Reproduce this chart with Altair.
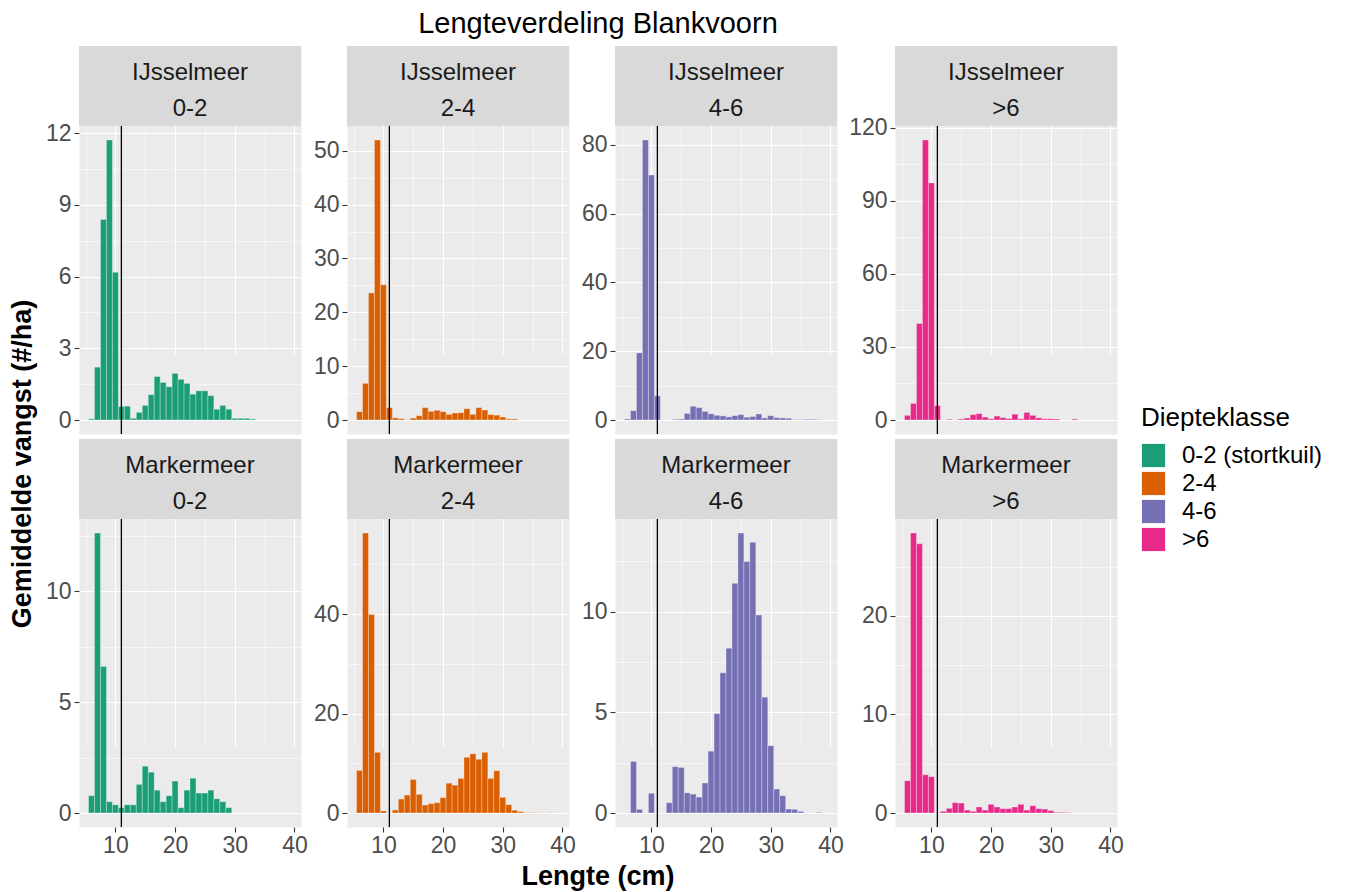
import altair as alt
import pandas as pd

FONT = "Liberation Sans"

TITLE = "Lengteverdeling Blankvoorn"
X_TITLE = "Lengte (cm)"
Y_TITLE = "Gemiddelde vangst (#/ha)"
LEGEND_TITLE = "Diepteklasse"

MEREN = ["IJsselmeer", "IJsselmeer", "IJsselmeer", "IJsselmeer",
         "Markermeer", "Markermeer", "Markermeer", "Markermeer"]
KLASSEN = ["0-2", "2-4", "4-6", ">6", "0-2", "2-4", "4-6", ">6"]
LEGEND_LABELS = ["0-2 (stortkuil)", "2-4", "4-6", ">6"]
COLORS = ["#1B9E77", "#D95F02", "#7570B3", "#E7298A"]

LENGTHS = list(range(6, 39))  # 6 .. 38 cm
REF_LINE = [11]

IJ_0_2 = [0.05, 2.21, 8.39, 11.71, 6.18, 0.56, 0.58, 0.07, 0.32, 0.61, 1.06, 1.82, 1.57, 1.39,
          1.95, 1.70, 1.53, 1.08, 1.22, 1.22, 1.02, 0.45, 0.61, 0.45, 0.07, 0.07, 0.07, 0.04,
          0, 0, 0, 0, 0]
IJ_2_4 = [1.55, 6.8, 23.6, 52.0, 25.1, 2.3, 0.4, 0.25, 0.05, 0.35, 0.8, 2.3, 1.6, 1.8,
          1.55, 1.05, 1.3, 1.35, 2.1, 1.05, 2.3, 1.85, 1.0, 0.9, 0.55, 0.2, 0.2,
          0, 0, 0, 0, 0, 0]
IJ_4_6 = [0.3, 2.7, 19.5, 81.4, 71.2, 7.0, 0, 0, 0.2, 0.3, 1.9, 4.0, 3.6, 2.5,
          1.8, 1.35, 1.2, 0.9, 1.25, 1.55, 0.8, 1.0, 1.75, 0.6, 1.25, 0.7, 0.6, 0.5,
          0.1, 0.1, 0.2, 0.2, 0.1]
IJ_GT6 = [1.9, 6.8, 39.6, 114.9, 97.3, 5.9, 0, 0.3, 0, 0.4, 0.8, 2.2, 2.6, 1.2,
          0.5, 1.6, 1.0, 0.6, 2.4, 0.5, 3.1, 1.9, 0.9, 0.5, 0.5, 0.4, 0, 0,
          0.4, 0, 0, 0, 0]
MM_0_2 = [0.78, 12.62, 6.6, 0.51, 0.37, 0.24, 0.37, 0.37, 1.29, 2.11, 1.84, 1.03, 0.51, 0.78,
          1.44, 0.24, 1.03, 1.57, 0.9, 0.9, 1.03, 0.64, 0.51, 0.24,
          0, 0, 0, 0, 0, 0, 0, 0, 0]
MM_2_4 = [8.56, 56.3, 39.9, 12.2, 0.4, 0.05, 0.6, 2.8, 3.6, 6.75, 3.75, 1.6, 1.87, 2.07,
          3.08, 6.0, 5.6, 6.95, 11.2, 11.9, 10.8, 12.2, 6.95, 8.5, 3.15, 1.67, 0.55, 0.27,
          0.05, 0.05, 0.05, 0, 0.05]
MM_4_6 = [0, 2.56, 0.18, 0, 0.98, 0, 0, 0.51, 2.3, 2.26, 1.0, 0.94, 0.79, 1.49,
          3.07, 4.93, 6.96, 8.18, 11.4, 13.9, 12.48, 13.44, 9.83, 5.75, 3.34, 1.19, 0.86, 0.2,
          0.18, 0.08, 0, 0, 0.03]
MM_GT6 = [3.27, 28.4, 27.3, 3.88, 3.68, 0.03, 0.17, 0.47, 1.05, 1.01, 0.3, 0.17, 0.61, 0.3,
          0.88, 0.61, 0.44, 0.44, 0.61, 0.88, 0.3, 0.74, 0.44, 0.4, 0.24, 0.07, 0.07, 0.03,
          0, 0, 0, 0, 0]

SERIES = [IJ_0_2, IJ_2_4, IJ_4_6, IJ_GT6, MM_0_2, MM_2_4, MM_4_6, MM_GT6]
Y_MAJORS = [[0, 3, 6, 9, 12], [0, 10, 20, 30, 40, 50], [0, 20, 40, 60, 80], [0, 30, 60, 90, 120],
            [0, 5, 10], [0, 20, 40], [0, 5, 10], [0, 10, 20]]
X_MAJORS = [10, 20, 30, 40]
X_TICKS = [5, 10, 15, 20, 25, 30, 35, 40]
X_DOMAIN = [3.9, 41.1]

W = 222
STRIP_H = 80
PLOT_H = 308
H = STRIP_H + PLOT_H

TICK_FONT = 23
STRIP_FONT = 24


def make_panel(idx):
    meer = MEREN[idx]
    klasse = KLASSEN[idx]
    vals = SERIES[idx]
    legend_label = LEGEND_LABELS[idx % 4]
    majors = Y_MAJORS[idx]
    bottom = idx >= 4

    df = pd.DataFrame({"Lengte": LENGTHS, "Vangst": vals})
    df = df[df["Vangst"] > 0].copy()
    df["Diepteklasse"] = legend_label

    m = max(vals)
    lo, hi = -0.05 * m, 1.05 * m
    half = (majors[1] - majors[0]) / 2
    ticks = []
    k = 0
    while k * half <= hi:
        ticks.append(k * half)
        k += 1
    ytest = "indexof(%s, datum.value) >= 0" % str(majors)

    yaxis = alt.Axis(
        values=ticks,
        labelExpr="%s ? toString(datum.value) : ''" % ytest,
        labelOverlap=False,
        gridColor="white",
        gridWidth={"condition": {"test": ytest, "value": 1.1}, "value": 0.55},
        tickOpacity={"condition": {"test": ytest, "value": 1}, "value": 0},
        tickSize=5, tickWidth=1.1, tickColor="#333333",
        labelColor="#4D4D4D", labelFontSize=TICK_FONT, labelPadding=3, labelFont=FONT,
        domain=False, title=None,
    )
    xtest = "indexof(%s, datum.value) >= 0" % str(X_MAJORS)
    if bottom:
        xaxis = alt.Axis(
            values=X_TICKS,
            labelExpr="%s ? toString(datum.value) : ''" % xtest,
            labelOverlap=False, labelFlush=False,
            gridColor="white",
            gridWidth={"condition": {"test": xtest, "value": 1.1}, "value": 0.55},
            tickOpacity={"condition": {"test": xtest, "value": 1}, "value": 0},
            tickSize=5, tickWidth=1.1, tickColor="#333333",
            labelColor="#4D4D4D", labelFontSize=TICK_FONT, labelPadding=2, labelFont=FONT,
            domain=False, title=None,
        )
    else:
        xaxis = alt.Axis(
            values=X_TICKS, labels=False, ticks=False,
            gridColor="white",
            gridWidth={"condition": {"test": xtest, "value": 1.1}, "value": 0.55},
            domain=False, title=None,
        )
    xscale = alt.Scale(domain=X_DOMAIN, nice=False, zero=False)

    bars = alt.Chart(df).transform_calculate(
        x0="datum.Lengte - 0.5", x1="datum.Lengte + 0.5", y0="0"
    ).mark_bar(stroke="white", strokeWidth=0.5, strokeOpacity=0.6).encode(
        x=alt.X("x0:Q", scale=xscale, axis=xaxis),
        x2="x1:Q",
        y=alt.Y("Vangst:Q", scale=alt.Scale(domain=[lo, hi], range=[H, STRIP_H], nice=False, zero=False),
                axis=yaxis),
        y2="y0:Q",
        color=alt.Color(
            "Diepteklasse:N",
            scale=alt.Scale(domain=LEGEND_LABELS, range=COLORS),
            legend=alt.Legend(
                title=LEGEND_TITLE, orient="none", legendX=1132, legendY=396,
                symbolType="square", symbolSize=576, symbolStrokeColor="white",
                symbolStrokeWidth=0.8, symbolOpacity=1,
                titleFontSize=26, titleFontWeight="normal", titleColor="black", titleFont=FONT,
                titlePadding=12,
                labelFontSize=24, labelColor="black", labelFont=FONT, labelOffset=16,
                rowPadding=-1,
            ),
        ),
    )

    rule = alt.Chart(pd.DataFrame({"x0": REF_LINE})).mark_rule(color="black", strokeWidth=1.3).encode(
        x=alt.X("x0:Q", scale=xscale, axis=xaxis)
    )

    sdf = pd.DataFrame({"meer": [meer], "klasse": [klasse]})
    strip = alt.Chart(sdf).mark_rect(color="#D9D9D9").encode(
        x=alt.value(0), x2=alt.value(W), y=alt.value(0), y2=alt.value(STRIP_H)
    )
    t1 = alt.Chart(sdf).mark_text(fontSize=STRIP_FONT, color="#1A1A1A", font=FONT).encode(
        x=alt.value(W / 2), y=alt.value(27), text="meer:N"
    )
    t2 = alt.Chart(sdf).mark_text(fontSize=STRIP_FONT, color="#1A1A1A", font=FONT).encode(
        x=alt.value(W / 2), y=alt.value(63), text="klasse:N"
    )

    return alt.layer(bars, rule, strip, t1, t2).properties(
        width=W, height=H,
        view=alt.ViewBackground(fill="#EBEBEB", stroke="transparent"),
    )


panels = [make_panel(i) for i in range(8)]
grid = alt.concat(*panels, columns=4, spacing=alt.RowColnumber(row=1, column=4)).properties(align="each")

title_chart = alt.Chart(pd.DataFrame({"t": [TITLE]})).mark_text(
    fontSize=29, font=FONT, color="black"
).encode(x=alt.value(589), y=alt.value(15), text="t:N").properties(width=1100, height=34)

ytitle_chart = alt.Chart(pd.DataFrame({"t": [Y_TITLE]})).mark_text(
    fontSize=27, font=FONT, fontWeight="bold", color="black", angle=270
).encode(x=alt.value(14), y=alt.value(418), text="t:N").properties(width=30, height=780)

xtitle_chart = alt.Chart(pd.DataFrame({"t": [X_TITLE]})).mark_text(
    fontSize=27, font=FONT, fontWeight="bold", color="black"
).encode(x=alt.value(589), y=alt.value(18), text="t:N").properties(width=1100, height=30)

mid = alt.hconcat(ytitle_chart, grid, spacing=4)

chart = alt.vconcat(title_chart, mid, xtitle_chart, spacing=0).properties(
    padding=0, background="white"
).configure(font=FONT).configure_view(stroke="transparent")

chart.save("out.html", embed_options={"renderer": "svg", "actions": False})
